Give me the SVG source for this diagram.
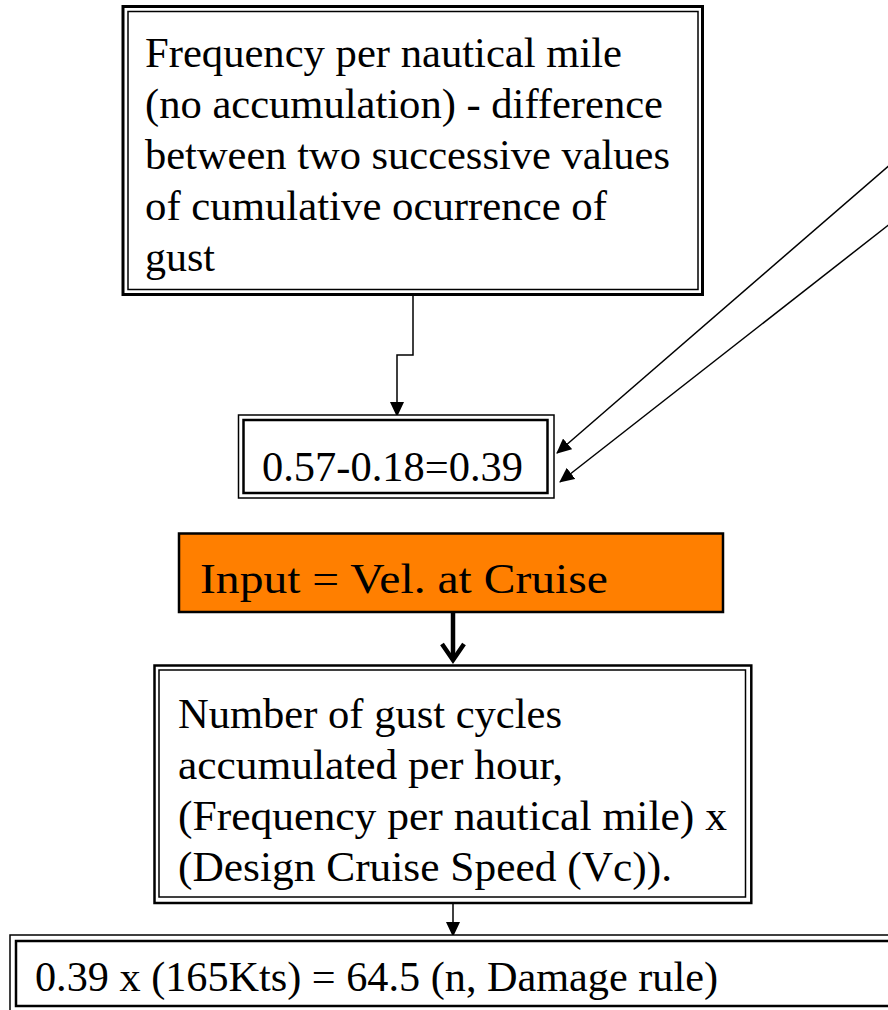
<svg xmlns="http://www.w3.org/2000/svg" width="888" height="1010" viewBox="0 0 888 1010">
<defs>
<style>
.t{font-family:"Liberation Serif","Times New Roman",serif;font-size:42px;fill:#000}
.o{fill:#fff;stroke:#000}
.i{fill:none;stroke:#000}
.c{fill:none;stroke:#000;stroke-width:1.5}
</style>
<marker id="ah" markerWidth="15" markerHeight="14" refX="14" refY="7" orient="auto" markerUnits="userSpaceOnUse">
<path d="M0,0 L15,7 L0,14 Z" fill="#000"/>
</marker>
<marker id="chev" markerWidth="24" markerHeight="26" refX="20" refY="13" orient="auto" markerUnits="userSpaceOnUse">
<path d="M4,2 L20,13 L4,24" fill="none" stroke="#000" stroke-width="4.5"/>
</marker>
</defs>
<rect width="888" height="1010" fill="#fff"/>
<g id="connectors">
<path class="c" d="M413,294 V355 H397 V416" marker-end="url(#ah)"/>
<path class="c" d="M900,156 L557,453" marker-end="url(#ah)"/>
<path class="c" d="M900,216 L560,482" marker-end="url(#ah)"/>
<path d="M453,612 V660" fill="none" stroke="#000" stroke-width="4.5" marker-end="url(#chev)"/>
<path class="c" d="M453,903 V936" marker-end="url(#ah)"/>
</g>
<g id="node-frequency">
<rect class="o" x="123" y="6.5" width="579.5" height="288" stroke-width="3"/>
<rect class="i" x="128" y="11.5" width="570" height="278" stroke-width="1.5"/>
<text class="t" x="145" y="67" textLength="477" lengthAdjust="spacingAndGlyphs">Frequency per nautical mile</text>
<text class="t" x="145" y="118" textLength="518" lengthAdjust="spacingAndGlyphs">(no accumulation) - difference</text>
<text class="t" x="145" y="169" textLength="525" lengthAdjust="spacingAndGlyphs">between two successive values</text>
<text class="t" x="145" y="220" textLength="462" lengthAdjust="spacingAndGlyphs">of cumulative ocurrence of</text>
<text class="t" x="145" y="271">gust</text>
</g>
<g id="node-difference">
<rect class="o" x="238.5" y="415" width="315.5" height="83" stroke-width="1.5"/>
<rect class="i" x="243.5" y="420" width="304" height="73" stroke-width="2.5"/>
<text class="t" x="262" y="481" textLength="261" lengthAdjust="spacingAndGlyphs">0.57-0.18=0.39</text>
</g>
<g id="node-input">
<rect x="179" y="533.5" width="544" height="78.5" fill="#ff7f00" stroke="#000" stroke-width="2.5"/>
<text class="t" x="200" y="593" font-size="48" textLength="408" lengthAdjust="spacingAndGlyphs">Input = Vel. at Cruise</text>
</g>
<g id="node-cycles">
<rect class="o" x="154.5" y="665.5" width="596.8" height="237.5" stroke-width="2.5"/>
<rect class="i" x="159" y="670" width="586.5" height="227" stroke-width="1.5"/>
<text class="t" x="178" y="728" textLength="384" lengthAdjust="spacingAndGlyphs">Number of gust cycles</text>
<text class="t" x="178" y="779" textLength="385" lengthAdjust="spacingAndGlyphs">accumulated per hour,</text>
<text class="t" x="178" y="830" textLength="549" lengthAdjust="spacingAndGlyphs">(Frequency per nautical mile) x</text>
<text class="t" x="178" y="881" textLength="494" lengthAdjust="spacingAndGlyphs">(Design Cruise Speed (Vc)).</text>
</g>
<g id="node-result">
<rect class="o" x="10" y="935" width="890" height="80" stroke-width="1.5"/>
<rect class="i" x="16" y="941" width="880" height="65" stroke-width="2.5"/>
<text class="t" x="35" y="991" textLength="683" lengthAdjust="spacingAndGlyphs">0.39 x (165Kts) = 64.5 (n, Damage rule)</text>
</g>
</svg>
